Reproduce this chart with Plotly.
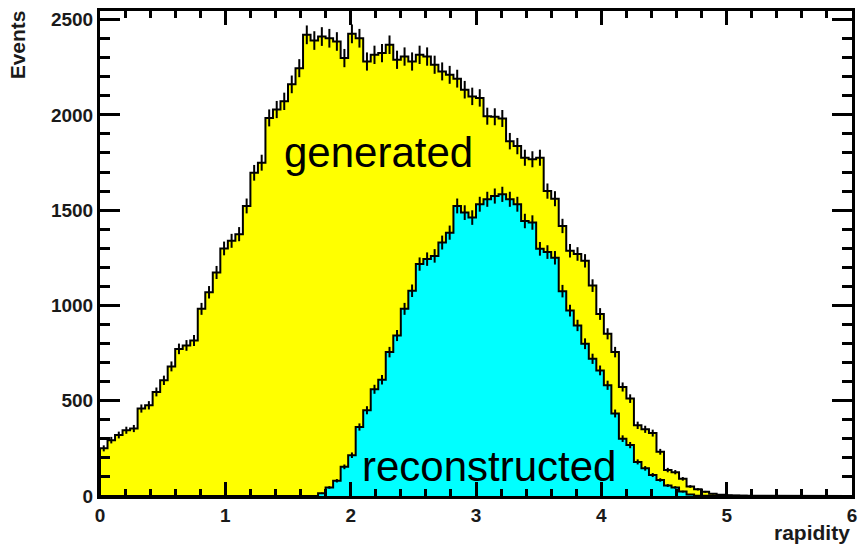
import numpy as np
import plotly.graph_objects as go

# Histogram binning (rapidity)
x_min, x_max, n_bins = 0.0, 6.0, 100

# Bin contents, 0.06 wide bins from 0 to 6
generated = [
    250, 293, 320, 345, 354, 459, 476, 546, 607, 680,
    772, 790, 816, 982, 1069, 1173, 1299, 1339, 1374, 1522,
    1696, 1749, 1984, 2028, 2071, 2160, 2245, 2420, 2390, 2411,
    2402, 2385, 2298, 2425, 2402, 2280, 2315, 2324, 2368, 2289,
    2306, 2280, 2315, 2306, 2263, 2228, 2210, 2190, 2132, 2097,
    2089, 1993, 1990, 1981, 1862, 1836, 1775, 1767, 1775, 1600,
    1560, 1417, 1287, 1270, 1234, 1104, 955, 851, 755, 572,
    511, 371, 350, 330, 232, 136, 125, 90, 50, 35,
    22, 12, 7, 4, 2, 1, 0, 0, 0, 0,
    0, 0, 0, 0, 0, 0, 0, 0, 0, 0,
]
reconstructed = [
    0, 0, 0, 0, 0, 0, 0, 0, 0, 0,
    0, 0, 0, 0, 0, 0, 0, 0, 0, 0,
    0, 0, 0, 0, 0, 0, 0, 0, 0, 14,
    45, 80, 153, 214, 362, 450, 560, 610, 755, 842,
    982, 1077, 1217, 1243, 1260, 1330, 1382, 1522, 1487, 1461,
    1531, 1557, 1574, 1583, 1557, 1531, 1443, 1435, 1297, 1280,
    1250, 1075, 973, 895, 799, 720, 659, 581, 433, 301,
    267, 179, 145, 110, 84, 55, 45, 23, 8, 2,
    0, 0, 0, 0, 0, 0, 0, 0, 0, 0,
    0, 0, 0, 0, 0, 0, 0, 0, 0, 0,
]

x_ticks = [0, 1, 2, 3, 4, 5, 6]
y_ticks = [0, 500, 1000, 1500, 2000, 2500]
y_top = 2545

edges = np.linspace(x_min, x_max, n_bins + 1)
centers = 0.5 * (edges[:-1] + edges[1:])


def step_outline(counts):
    """Closed step outline of a histogram, starting and ending on zero."""
    xs, ys = [edges[0]], [0]
    for i, c in enumerate(counts):
        xs += [edges[i], edges[i + 1]]
        ys += [c, c]
    xs.append(edges[-1])
    ys.append(0)
    return xs, ys


def hist_traces(counts, fill):
    xs, ys = step_outline(counts)
    body = go.Scatter(
        x=xs, y=ys, mode="lines",
        line=dict(color="black", width=2),
        fill="tozeroy", fillcolor=fill,
        hoverinfo="skip", showlegend=False,
    )
    c = np.asarray(counts, dtype=float)
    keep = c > 0
    errs = go.Scatter(
        x=centers[keep], y=c[keep], mode="markers",
        marker=dict(size=1, color="black"),
        error_y=dict(type="data", array=np.sqrt(c[keep]),
                     color="black", thickness=2, width=0),
        hoverinfo="skip", showlegend=False,
    )
    return body, errs


gen_body, gen_err = hist_traces(generated, "#ffff00")
rec_body, rec_err = hist_traces(reconstructed, "#00ffff")

fig = go.Figure([gen_body, rec_body, gen_err, rec_err])

tick_font = dict(family="Liberation Sans", size=19, color="#1a1a1a", weight="bold")
label_font = dict(family="Liberation Sans", size=42, color="black")
title_font = dict(family="Liberation Sans", size=21, color="#1a1a1a", weight="bold")

fig.update_layout(
    width=858, height=548,
    margin=dict(l=100, r=6, t=11, b=52),
    plot_bgcolor="white", paper_bgcolor="white",
    showlegend=False,
    xaxis=dict(
        range=[x_min, x_max], tickvals=x_ticks, ticktext=[str(v) for v in x_ticks],
        ticks="inside", ticklen=14, tickwidth=3, tickcolor="black",
        showline=True, linewidth=3, linecolor="black", mirror="ticks",
        showgrid=False, zeroline=False, tickfont=tick_font, automargin=False,
        minor=dict(ticks="inside", ticklen=7, tickwidth=3, tickcolor="black",
                   dtick=0.2, showgrid=False),
    ),
    yaxis=dict(
        range=[0, y_top], tickvals=y_ticks, ticktext=[str(v) for v in y_ticks],
        ticks="inside", ticklen=20, tickwidth=3, tickcolor="black",
        showline=True, linewidth=3, linecolor="black", mirror="ticks",
        showgrid=False, zeroline=False, tickfont=tick_font, automargin=False,
        minor=dict(ticks="inside", ticklen=10, tickwidth=3, tickcolor="black",
                   dtick=100, showgrid=False),
    ),
    annotations=[
        dict(text="generated", x=2.22, y=1802, xref="x", yref="y",
             showarrow=False, xanchor="center", yanchor="middle", font=label_font),
        dict(text="reconstructed", x=3.10, y=157, xref="x", yref="y",
             showarrow=False, xanchor="center", yanchor="middle", font=label_font),
        dict(text="Events", x=-0.11, y=1.005, xref="paper", yref="paper",
             showarrow=False, textangle=-90, xanchor="center", yanchor="top",
             font=title_font),
        dict(text="rapidity", x=1.0, y=-0.076, xref="paper", yref="paper",
             showarrow=False, xanchor="right", yanchor="middle", font=title_font),
    ],
)

fig.write_html("out.html", config={"displayModeBar": False})
